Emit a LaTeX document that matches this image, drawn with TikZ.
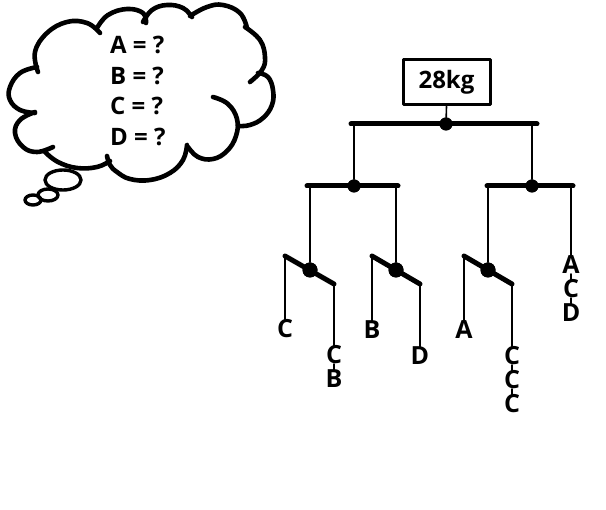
\documentclass[tikz,border=0pt]{standalone}
\usepackage{fontspec}
\setmainfont{Open Sans}
\begin{document}
\begin{tikzpicture}[x=1pt,y=-1pt,line cap=round,line join=round,
  cloudline/.style={line width=4.6pt},
  bubble/.style={line width=3.4pt},
  bar/.style={line width=5pt},
  thinline/.style={line width=1.6pt},
  pivot/.style={circle,fill=black,inner sep=0pt,minimum size=13pt},
  bigpivot/.style={circle,fill=black,inner sep=0pt,minimum size=15pt},
  lbl/.style={font=\bfseries\fontsize{25}{25}\selectfont,inner sep=0pt,text height=17.8pt,text depth=0pt,anchor=south},
  qtext/.style={font=\bfseries\fontsize{24}{24}\selectfont,inner sep=0pt,text height=17pt,text depth=0pt,anchor=south west},
  weightbox/.style={draw,line width=3pt,minimum width=87pt,minimum height=45pt,inner sep=0pt,font=\bfseries\fontsize{24}{24}\selectfont}]
\useasboundingbox[fill=white] (0,0) rectangle (606,510);

% ---------- thought cloud ----------
\draw[cloudline] plot[smooth,tension=0.7] coordinates {(38,72) (35,52) (47,33) (67,22) (87,23) (100,33)};
\draw[cloudline] plot[smooth,tension=0.7] coordinates {(97,28) (108,15) (127,9) (143,13) (146,23)};
\draw[cloudline] plot[smooth,tension=0.7] coordinates {(143,22) (152,10) (167,5) (183,8) (192,17)};
\draw[cloudline] plot[smooth,tension=0.7] coordinates {(190,16) (207,7) (223,5) (240,13) (247,28)};
\draw[cloudline] plot[smooth,tension=0.7] coordinates {(245,27) (260,40) (265,57) (262,70) (250,82)};
\draw[cloudline] plot[smooth,tension=0.7] coordinates {(258,73) (268,77) (273,90) (272,105) (263,118) (250,125) (238,126)};
\draw[cloudline] plot[smooth,tension=0.7] coordinates {(213,97) (228,104) (237,119) (236,136) (227,151) (213,159) (198,157) (188,147)};
\draw[cloudline] plot[smooth,tension=0.7] coordinates {(187,145) (183,160) (170,173) (150,180) (130,179) (117,172) (110,165) (107,156)};
\draw[cloudline] plot[smooth,tension=0.7] coordinates {(110,161) (97,167) (77,168) (58,162) (45,152)};
\draw[cloudline] plot[smooth,tension=0.7] coordinates {(53,147) (37,152) (23,147) (15,133) (20,120) (35,112)};
\draw[cloudline] plot[smooth,tension=0.7] coordinates {(37,67) (20,73) (10,87) (10,100) (20,110) (35,113)};
\draw[bubble] (63,180) ellipse [x radius=18pt,y radius=10pt];
\draw[bubble] (48,195) ellipse [x radius=10pt,y radius=6pt];
\draw[bubble] (33,200) ellipse [x radius=8pt,y radius=5pt];

\node[qtext] (qa) at (110,54) {A = ?};
\node[qtext] (qb) at (110,84.5) {B = ?};
\node[qtext] (qc) at (110,115) {C = ?};
\node[qtext] (qd) at (110,146) {D = ?};

% ---------- mobile ----------
\node[weightbox] (w) at (446.5,82.5) {28kg};

\coordinate (t1) at (351,124);
\coordinate (t2) at (537,124);
\coordinate (h1) at (354,124);
\coordinate (h2) at (532,124);
\coordinate (l1) at (307,186);
\coordinate (l2) at (398,186);
\coordinate (r1) at (487,186);
\coordinate (r2) at (573,186);
\coordinate (l1h) at (310,186);
\coordinate (l2h) at (396,186);
\coordinate (r1h) at (488,186);
\coordinate (r2h) at (571,186);
\coordinate (e1a) at (285,256);
\coordinate (e1b) at (334,284);
\coordinate (e2a) at (372,256);
\coordinate (e2b) at (420,284);
\coordinate (e3a) at (464,256);
\coordinate (e3b) at (512,284);

\node[pivot] (p0) at (446,124) {};
\node[pivot] (p1) at (354,186) {};
\node[pivot] (p2) at (532,186) {};
\node[bigpivot] (q1) at (310,270) {};
\node[bigpivot] (q2) at (396,270) {};
\node[bigpivot] (q3) at (488,270) {};

% labels
\node[lbl] (c1) at (285,338) {C};
\node[lbl] (c2) at (334,364) {C};
\node[lbl] (b1) at (334,388) {B};
\node[lbl] (b2) at (372,339) {B};
\node[lbl] (d1) at (420,365) {D};
\node[lbl] (a1) at (464,339) {A};
\node[lbl] (c3) at (512,365) {C};
\node[lbl] (c4) at (512,389) {C};
\node[lbl] (c5) at (512,413) {C};
\node[lbl] (a2) at (571,274) {A};
\node[lbl] (c6) at (571,298) {C};
\node[lbl] (d2) at (571,322) {D};

% strings
\draw[thinline] (w.south) -- (p0);
\draw[thinline] (h1) -- (p1);
\draw[thinline] (h2) -- (p2);
\draw[thinline] (l1h) -- (q1);
\draw[thinline] (l2h) -- (q2);
\draw[thinline] (r1h) -- (q3);
\draw[thinline] (r2h) -- (a2.north);
\draw[thinline] (a2.south) -- (c6.north);
\draw[thinline] (c6.south) -- (d2.north);
\draw[thinline] (e1a) -- (c1.north);
\draw[thinline] (e1b) -- (c2.north);
\draw[thinline] (c2.south) -- (b1.north);
\draw[thinline] (e2a) -- (b2.north);
\draw[thinline] (e2b) -- (d1.north);
\draw[thinline] (e3a) -- (a1.north);
\draw[thinline] (e3b) -- (c3.north);
\draw[thinline] (c3.south) -- (c4.north);
\draw[thinline] (c4.south) -- (c5.north);

% bars
\draw[bar] (t1) -- (t2);
\draw[bar] (l1) -- (l2);
\draw[bar] (r1) -- (r2);
\draw[bar] (e1a) -- (e1b);
\draw[bar] (e2a) -- (e2b);
\draw[bar] (e3a) -- (e3b);

\fill (p0) circle (6.5pt);
\fill (p1) circle (6.5pt);
\fill (p2) circle (6.5pt);
\fill (q1) circle (7.5pt);
\fill (q2) circle (7.5pt);
\fill (q3) circle (7.5pt);
\end{tikzpicture}
\end{document}
